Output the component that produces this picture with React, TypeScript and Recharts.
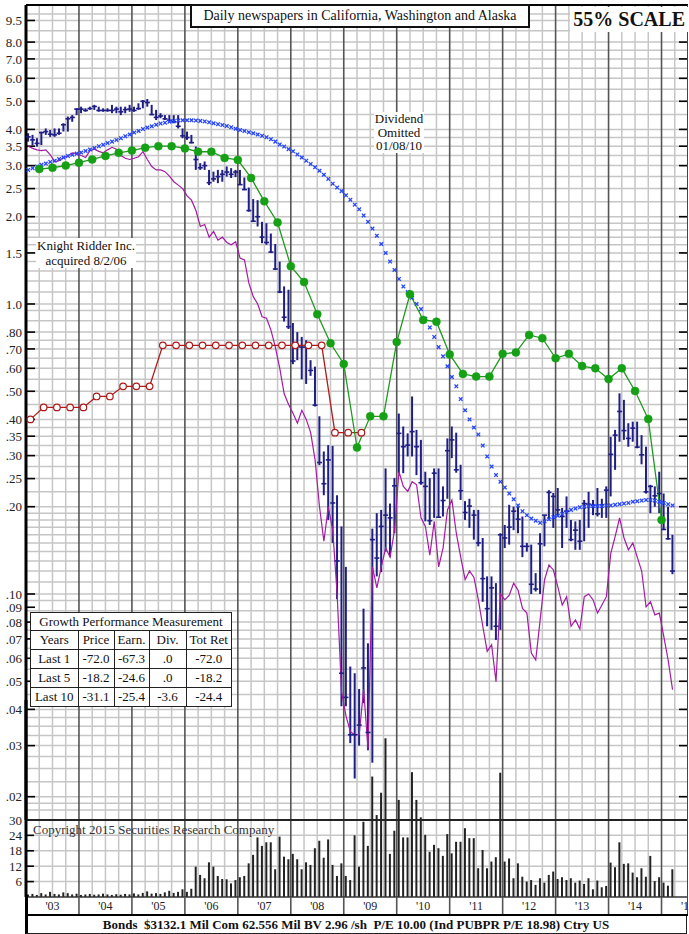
import React from 'react';
import { ComposedChart, Bar, Line, XAxis, YAxis, ReferenceLine } from 'recharts';

const SERIF = '"Liberation Serif", "Times New Roman", serif';

// monthly bars, Jan 2003 .. Mar 2015
const priceHigh = [
  3.88, 3.83, 3.73, 3.93, 4.03, 3.98, 4.03, 4.03, 4.20, 4.43, 4.48, 4.73,
  4.79, 4.73, 4.79, 4.86, 4.79, 4.73, 4.73, 4.86, 4.79, 4.79, 4.79, 4.86,
  4.79, 4.92, 5.05, 5.09, 4.86, 4.67, 4.55, 4.48, 4.48, 4.48, 4.48, 4.03,
  3.93, 3.83, 3.49, 3.06, 3.10, 2.90, 2.86, 2.90, 2.90, 2.98, 2.94, 2.90,
  2.90, 2.73, 2.52, 2.30, 2.28, 1.92, 1.90, 1.75, 1.61, 1.40, 1.15, 1.12,
  0.86, 0.80, 0.77, 0.75, 0.64, 0.608, 0.41, 0.31, 0.326, 0.324, 0.219, 0.171,
  0.124, 0.0562, 0.0533, 0.047, 0.089, 0.0676, 0.168, 0.190, 0.195, 0.271, 0.205, 0.251,
  0.419, 0.378, 0.358, 0.48, 0.368, 0.340, 0.264, 0.251, 0.271, 0.271, 0.235, 0.344,
  0.378, 0.36, 0.279, 0.209, 0.213, 0.195, 0.195, 0.156, 0.115, 0.115, 0.109, 0.162,
  0.173, 0.203, 0.200, 0.200, 0.185, 0.150, 0.148, 0.118, 0.162, 0.187, 0.228, 0.223,
  0.232, 0.198, 0.217, 0.180, 0.178, 0.180, 0.211, 0.225, 0.211, 0.232, 0.213, 0.235,
  0.348, 0.368, 0.492, 0.467, 0.388, 0.393, 0.393, 0.353, 0.322, 0.238, 0.235, 0.264,
  0.222, 0.200, 0.160,
];
const priceLow = [
  3.63, 3.53, 3.49, 3.53, 3.83, 3.77, 3.77, 3.83, 3.93, 3.93, 4.25, 4.48,
  4.55, 4.60, 4.67, 4.67, 4.60, 4.60, 4.60, 4.55, 4.55, 4.48, 4.55, 4.60,
  4.60, 4.67, 4.73, 4.79, 4.48, 4.31, 4.37, 4.31, 4.25, 4.20, 4.03, 3.73,
  3.68, 3.58, 2.90, 2.90, 2.90, 2.57, 2.64, 2.61, 2.64, 2.75, 2.72, 2.74,
  2.57, 2.47, 2.08, 1.92, 1.85, 1.62, 1.60, 1.50, 1.31, 1.09, 0.87, 0.82,
  0.62, 0.64, 0.55, 0.53, 0.565, 0.443, 0.278, 0.219, 0.18, 0.15, 0.096, 0.041,
  0.041, 0.0306, 0.0231, 0.030, 0.042, 0.0289, 0.0262, 0.115, 0.119, 0.140, 0.134, 0.162,
  0.261, 0.261, 0.298, 0.298, 0.257, 0.238, 0.178, 0.173, 0.183, 0.183, 0.185, 0.213,
  0.294, 0.262, 0.211, 0.180, 0.169, 0.154, 0.146, 0.094, 0.0774, 0.0752, 0.0694, 0.0752,
  0.144, 0.148, 0.166, 0.162, 0.134, 0.140, 0.100, 0.102, 0.100, 0.146, 0.180, 0.169,
  0.185, 0.144, 0.169, 0.152, 0.142, 0.142, 0.152, 0.169, 0.187, 0.185, 0.183, 0.183,
  0.217, 0.268, 0.335, 0.340, 0.322, 0.335, 0.318, 0.280, 0.222, 0.190, 0.200, 0.190,
  0.166, 0.154, 0.117,
];
const priceClose = [
  3.77, 3.68, 3.58, 3.90, 3.93, 3.85, 3.83, 3.88, 4.15, 4.35, 4.40, 4.70,
  4.70, 4.65, 4.72, 4.80, 4.65, 4.65, 4.65, 4.65, 4.70, 4.60, 4.68, 4.70,
  4.65, 4.72, 5.00, 4.95, 4.50, 4.40, 4.45, 4.35, 4.30, 4.25, 4.10, 3.80,
  3.75, 3.60, 3.15, 2.95, 3.00, 2.62, 2.70, 2.75, 2.80, 2.85, 2.80, 2.85,
  2.58, 2.48, 2.10, 1.93, 2.00, 1.70, 1.63, 1.51, 1.32, 1.10, 0.90, 0.835,
  0.636, 0.713, 0.71, 0.71, 0.59, 0.448, 0.284, 0.24, 0.29, 0.206, 0.13, 0.0533,
  0.044, 0.0327, 0.0327, 0.0353, 0.0556, 0.0333, 0.154, 0.133, 0.171, 0.187, 0.183, 0.236,
  0.358, 0.322, 0.326, 0.363, 0.322, 0.242, 0.235, 0.179, 0.261, 0.184, 0.21, 0.312,
  0.34, 0.268, 0.227, 0.191, 0.201, 0.187, 0.150, 0.113, 0.089, 0.105, 0.0774, 0.160,
  0.156, 0.170, 0.193, 0.181, 0.146, 0.146, 0.108, 0.104, 0.149, 0.187, 0.224, 0.217,
  0.195, 0.185, 0.193, 0.154, 0.166, 0.152, 0.205, 0.204, 0.202, 0.189, 0.203, 0.228,
  0.303, 0.353, 0.426, 0.366, 0.344, 0.373, 0.321, 0.302, 0.225, 0.235, 0.218, 0.222,
  0.167, 0.155, 0.120,
];
const movingAvg = [
  2.90, 2.94, 2.98, 3.02, 3.05, 3.09, 3.12, 3.16, 3.20, 3.24, 3.27, 3.30,
  3.33, 3.37, 3.41, 3.45, 3.50, 3.54, 3.59, 3.63, 3.68, 3.73, 3.79, 3.84,
  3.90, 3.95, 4.01, 4.06, 4.10, 4.15, 4.19, 4.22, 4.25, 4.27, 4.29, 4.30,
  4.30, 4.30, 4.29, 4.28, 4.26, 4.23, 4.20, 4.17, 4.14, 4.11, 4.07, 4.02,
  3.98, 3.95, 3.91, 3.88, 3.84, 3.80, 3.76, 3.70, 3.63, 3.55, 3.49, 3.42,
  3.36, 3.28, 3.20, 3.12, 3.04, 2.96, 2.88, 2.79, 2.70, 2.60, 2.52, 2.45,
  2.37, 2.29, 2.20, 2.12, 2.02, 1.92, 1.82, 1.72, 1.61, 1.50, 1.40, 1.31,
  1.22, 1.15, 1.10, 1.05, 1.00, 0.96, 0.89, 0.83, 0.77, 0.71, 0.66, 0.61,
  0.56, 0.52, 0.47, 0.43, 0.40, 0.375, 0.355, 0.325, 0.298, 0.275, 0.257, 0.244,
  0.233, 0.222, 0.212, 0.202, 0.193, 0.187, 0.182, 0.179, 0.176, 0.178, 0.181, 0.184,
  0.186, 0.189, 0.192, 0.195, 0.197, 0.199, 0.200, 0.201, 0.201, 0.201, 0.201, 0.202,
  0.202, 0.203, 0.204, 0.205, 0.206, 0.208, 0.209, 0.210, 0.211, 0.211, 0.210, 0.208,
  0.206, 0.204, 0.202,
];
const relStrength = [
  3.50, 3.44, 3.40, 3.38, 3.40, 3.27, 3.09, 3.12, 3.20, 3.24, 3.32, 3.30,
  3.25, 3.20, 3.38, 3.42, 3.36, 3.32, 3.40, 3.47, 3.42, 3.25, 3.18, 3.15,
  3.18, 3.22, 3.35, 3.15, 2.98, 2.90, 2.90, 2.86, 2.76, 2.64, 2.57, 2.50,
  2.36, 2.28, 2.10, 1.85, 1.88, 1.70, 1.78, 1.66, 1.70, 1.63, 1.60, 1.64,
  1.44, 1.42, 1.18, 1.06, 1.00, 0.904, 0.893, 0.813, 0.71, 0.60, 0.49, 0.45,
  0.42, 0.388, 0.43, 0.40, 0.36, 0.29, 0.20, 0.152, 0.20, 0.166, 0.10, 0.046,
  0.038, 0.0335, 0.0327, 0.0327, 0.047, 0.0291, 0.124, 0.105, 0.124, 0.144, 0.134, 0.166,
  0.264, 0.235, 0.226, 0.244, 0.238, 0.183, 0.171, 0.136, 0.178, 0.124, 0.144, 0.195,
  0.211, 0.162, 0.134, 0.112, 0.120, 0.114, 0.0954, 0.0774, 0.0634, 0.0668, 0.0498, 0.100,
  0.0954, 0.099, 0.109, 0.103, 0.0892, 0.0859, 0.0626, 0.0592, 0.0814, 0.112, 0.126, 0.121,
  0.106, 0.0916, 0.0979, 0.0774, 0.0814, 0.0757, 0.0979, 0.100, 0.0954, 0.0859, 0.0916, 0.0979,
  0.138, 0.158, 0.183, 0.156, 0.142, 0.150, 0.134, 0.120, 0.0903, 0.094, 0.0847, 0.0859,
  0.0715, 0.0592, 0.0468,
];
// volume, hundred thousands of shares
const volume = [
  1.0, 1.2, 0.8, 1.5, 1.0, 2.0, 1.2, 1.0, 1.8, 1.5, 1.0, 1.3,
  0.8, 1.0, 1.2, 0.9, 1.0, 1.3, 1.0, 0.8, 1.1, 0.9, 1.2, 1.0,
  1.4, 1.0, 1.6, 2.2, 1.3, 1.5, 1.2, 1.8, 2.4, 1.6, 2.0, 3.0,
  2.0, 3.2, 11.8, 8.6, 7.3, 13.5, 11.8, 8.2, 7.0, 6.9, 5.3, 6.6,
  7.7, 8.2, 13.1, 16.4, 23.2, 19.9, 21.3, 21.3, 10.8, 23.5, 15.7, 14.7,
  16.8, 14.7, 10.8, 13.5, 12.5, 19.0, 21.9, 15.3, 22.4, 12.5, 8.2, 13.1,
  8.2, 6.6, 24.0, 11.8, 29.3, 19.9, 46.9, 31.9, 40.6, 61.8, 16.8, 25.8,
  37.8, 23.2, 23.2, 48.6, 37.8, 31.0, 24.2, 17.6, 20.3, 19.0, 16.0, 24.5,
  17.0, 21.5, 21.5, 26.8, 22.9, 22.9, 11.2, 18.3, 11.2, 13.8, 15.5, 48.4,
  13.8, 15.0, 7.3, 13.1, 7.9, 6.0, 6.6, 4.7, 7.3, 5.6, 8.6, 9.9,
  7.0, 7.7, 6.6, 7.3, 5.6, 6.4, 5.1, 7.3, 3.0, 6.4, 3.8, 4.3,
  13.4, 11.6, 21.3, 12.9, 13.1, 9.5, 7.7, 11.2, 7.9, 16.0, 6.2, 7.7,
  5.6, 4.4, 10.8,
];
// quarterly earnings, Apr 2003 .. Jan 2015
const earnings = [
  2.92, 2.95, 3.00, 3.07, 3.15, 3.24, 3.32, 3.38, 3.46, 3.50, 3.50, 3.44,
  3.35, 3.35, 3.19, 3.14, 2.72, 2.26, 1.91, 1.35, 1.19, 0.922, 0.732, 0.621,
  0.320, 0.41, 0.41, 0.739, 1.08, 0.881, 0.869, 0.67, 0.574, 0.562, 0.562, 0.673,
  0.681, 0.782, 0.762, 0.650, 0.673, 0.611, 0.600, 0.551, 0.600, 0.501, 0.401, 0.180,
];
// quarterly dividends (annual rate), Feb 2003 .. May 2009
const dividends = [
  0.40, 0.44, 0.44, 0.44, 0.44, 0.48, 0.48, 0.52, 0.52, 0.52,
  0.72, 0.72, 0.72, 0.72, 0.72, 0.72, 0.72, 0.72, 0.72, 0.72, 0.72, 0.72, 0.72,
  0.36, 0.36, 0.36,
];

const priceTicks = [9.5, 8, 7, 6, 5, 4, 3.5, 3, 2.5, 2, 1.5, 1, 0.8, 0.7, 0.6, 0.5, 0.4, 0.35, 0.3, 0.25, 0.2, 0.1, 0.09, 0.08, 0.07, 0.06, 0.05, 0.04, 0.03, 0.02];
const volumeTicks = [30, 24, 18, 12, 6];
const gridSteps = [1, 1.1, 1.2, 1.3, 1.4, 1.5, 1.6, 1.7, 1.8, 1.9, 2, 2.25, 2.5, 2.75, 3, 3.25, 3.5, 3.75, 4, 4.5, 5, 5.5, 6, 6.5, 7, 7.5, 8, 8.75, 9.5];

const perfHeader = ['Years', 'Price', 'Earn.', 'Div.', 'Tot Ret'];
const perfRows = [
  ['Last 1', '-72.0', '-67.3', '.0', '-72.0'],
  ['Last 5', '-18.2', '-24.6', '.0', '-18.2'],
  ['Last 10', '-31.1', '-25.4', '-3.6', '-24.4'],
];

const X_DOMAIN: [number, number] = [2003, 2015.5];
const PRICE_DOMAIN: [number, number] = [0.01662, 10.74];
const VOL_MAX = 76.7;

const monthly = priceHigh.map((h, i) => ({
  t: 2003 + (i + 0.5) / 12,
  range: [priceLow[i], h],
  close: priceClose[i],
  ma: movingAvg[i],
  rs: relStrength[i],
  vol: volume[i],
}));
const earnData = earnings.map((v, i) => ({ t: 2003.25 + i * 0.25, v }));
const divData = dividends.map((v, i) => ({ t: 2003 + 1 / 12 + i * 0.25, v }));

const priceGrid = [0.01, 0.1, 1, 10]
  .flatMap((d) => gridSteps.map((s) => +(s * d).toPrecision(3)))
  .filter((v) => v > 0.017 && v < 10.7);
const yearLines = Array.from({ length: 12 }, (_, i) => 2004 + i);
const quarterLines = Array.from({ length: 49 }, (_, i) => 2003 + (i + 1) * 0.25).filter((t) => t % 1 !== 0);
const xTicks = Array.from({ length: 26 }, (_, i) => 2003 + i * 0.5);

const GRID = '#c6c6c6';
const YEAR = '#555';
const NAVY = '#1e1e86';

const fmtPrice = (v: number) => (v >= 1 ? v.toFixed(1) : '.' + String(Math.round(v * 100)).padStart(2, '0'));

const closeTick = (p: any) => (
  <line key={'c' + p.index} x1={p.cx - 2.5} x2={p.cx + 2.5} y1={p.cy} y2={p.cy} stroke={NAVY} strokeWidth={1.6} />
);

const maCross = (p: any) => (
  <g key={'m' + p.index} stroke="#2646ff" strokeWidth={1.3}>
    <line x1={p.cx - 1.8} x2={p.cx + 1.8} y1={p.cy - 1.8} y2={p.cy + 1.8} />
    <line x1={p.cx - 1.8} x2={p.cx + 1.8} y1={p.cy + 1.8} y2={p.cy - 1.8} />
  </g>
);

function YearTick(props: any) {
  const { x, y, payload } = props;
  const v = payload.value;
  if (Number.isInteger(v)) {
    return <line x1={x} x2={x} y1={y} y2={y + 18} stroke={YEAR} strokeWidth={1.6} />;
  }
  return (
    <text x={x} y={y + 13} textAnchor="middle" fontSize={12} fontFamily={SERIF} fill="#222">
      {"'" + String(Math.floor(v)).slice(2)}
    </text>
  );
}

const tickStyle = { fontSize: 13, fill: '#222', fontFamily: SERIF };

// grid only, drawn underneath the data layer
function PriceGrid() {
  return (
    <ComposedChart width={689} height={820} data={monthly} margin={{ top: 5, right: 1, bottom: 0, left: 26 }}>
      <XAxis dataKey="t" type="number" domain={X_DOMAIN} allowDataOverflow hide />
      <YAxis scale="log" domain={PRICE_DOMAIN} allowDataOverflow hide />
      {priceGrid.map((v) => (
        <ReferenceLine key={'h' + v} y={v} stroke={GRID} strokeWidth={1.5} ifOverflow="visible" />
      ))}
      {quarterLines.map((t) => (
        <ReferenceLine key={'q' + t} x={t} stroke={GRID} strokeWidth={1.5} ifOverflow="visible" />
      ))}
      {yearLines.map((t) => (
        <ReferenceLine key={'y' + t} x={t} stroke={YEAR} strokeWidth={1.6} ifOverflow="visible" />
      ))}
    </ComposedChart>
  );
}

function PriceChart() {
  return (
    <ComposedChart width={689} height={820} data={monthly} margin={{ top: 5, right: 1, bottom: 0, left: 0 }}>
      <XAxis dataKey="t" type="number" domain={X_DOMAIN} allowDataOverflow hide />
      <YAxis
        scale="log"
        domain={PRICE_DOMAIN}
        allowDataOverflow
        ticks={priceTicks}
        interval={0}
        width={26}
        tickLine={false}
        tickSize={4}
        tickMargin={0}
        axisLine={{ stroke: '#000', strokeWidth: 3 }}
        tick={tickStyle}
        tickFormatter={fmtPrice}
      />
      {priceTicks.map((v) => (
        <ReferenceLine key={'tl' + v} segment={[{ x: 2003, y: v }, { x: 2003.17, y: v }]} stroke="#000" strokeWidth={1.6} ifOverflow="visible" />
      ))}
      {priceTicks.map((v) => (
        <ReferenceLine key={'tr' + v} segment={[{ x: 2015.33, y: v }, { x: 2015.5, y: v }]} stroke="#000" strokeWidth={1.6} ifOverflow="visible" />
      ))}
      <Line dataKey="rs" stroke="#a31ca3" strokeWidth={1.2} dot={false} activeDot={false} isAnimationActive={false} />
      <Bar dataKey="range" barSize={2} fill={NAVY} isAnimationActive={false} />
      <Line dataKey="close" stroke="none" dot={closeTick} activeDot={false} isAnimationActive={false} />
      <Line dataKey="ma" stroke="none" dot={maCross} activeDot={false} isAnimationActive={false} />
      <Line
        data={divData}
        dataKey="v"
        stroke="#b01a1a"
        strokeWidth={1.3}
        dot={{ r: 3.3, fill: '#fff', stroke: '#b01a1a', strokeWidth: 1.2 }}
        activeDot={false}
        isAnimationActive={false}
      />
      <Line
        data={earnData}
        dataKey="v"
        stroke="#1f9a1f"
        strokeWidth={1.3}
        dot={{ r: 4, fill: '#15a015', stroke: '#15a015', strokeWidth: 0.5 }}
        activeDot={false}
        isAnimationActive={false}
      />
    </ComposedChart>
  );
}

function VolumeGrid() {
  return (
    <ComposedChart width={689} height={197} data={monthly} margin={{ top: 0, right: 1, bottom: 0, left: 26 }}>
      <XAxis dataKey="t" type="number" domain={X_DOMAIN} allowDataOverflow hide />
      <YAxis domain={[0, VOL_MAX]} allowDataOverflow hide />
      {[6, 12, 18, 24].map((v) => (
        <ReferenceLine key={'vh' + v} y={v} stroke={GRID} strokeWidth={1.5} ifOverflow="visible" />
      ))}
      {quarterLines.map((t) => (
        <ReferenceLine key={'vq' + t} segment={[{ x: t, y: 0 }, { x: t, y: 30 }]} stroke={GRID} strokeWidth={1.5} ifOverflow="visible" />
      ))}
      {yearLines.map((t) => (
        <ReferenceLine key={'vy' + t} segment={[{ x: t, y: 0 }, { x: t, y: 30 }]} stroke={YEAR} strokeWidth={1.6} ifOverflow="visible" />
      ))}
    </ComposedChart>
  );
}

function VolumeChart() {
  return (
    <ComposedChart width={689} height={216} data={monthly} margin={{ top: 0, right: 1, bottom: 0, left: 0 }}>
      <XAxis
        dataKey="t"
        type="number"
        domain={X_DOMAIN}
        allowDataOverflow
        ticks={xTicks}
        interval={0}
        height={19}
        tickLine={false}
        tickSize={0}
        tickMargin={0}
        tick={<YearTick />}
        axisLine={{ stroke: '#333', strokeWidth: 1.5 }}
      />
      <YAxis
        domain={[0, VOL_MAX]}
        allowDataOverflow
        ticks={volumeTicks}
        interval={0}
        width={26}
        tickLine={false}
        tickSize={4}
        tickMargin={0}
        axisLine={{ stroke: '#000', strokeWidth: 3 }}
        tick={tickStyle}
      />
      {[6, 12, 18, 24].map((v) => (
        <ReferenceLine key={'vt' + v} segment={[{ x: 2003, y: v }, { x: 2003.15, y: v }]} stroke="#000" strokeWidth={1.6} ifOverflow="visible" />
      ))}
      <ReferenceLine y={30} stroke="#222" strokeWidth={2} ifOverflow="visible" />
      <Bar dataKey="vol" barSize={2} fill="#222" isAnimationActive={false} />
    </ComposedChart>
  );
}

const abs = (s: React.CSSProperties): React.CSSProperties => ({ position: 'absolute', ...s });
const cell: React.CSSProperties = { border: '1px solid #222', padding: 0, textAlign: 'center', height: 18 };

export default function App() {
  return (
    <div style={abs({ left: 0, top: 0, width: 689, height: 934, background: '#fff', fontFamily: SERIF, color: '#111', overflow: 'hidden' })}>
      <div style={abs({ left: 0, top: 0 })}>
        <PriceGrid />
      </div>
      <div style={abs({ left: 0, top: 700 })}>
        <VolumeGrid />
      </div>
      <div style={abs({ left: 0, top: 0 })}>
        <PriceChart />
      </div>
      <div style={abs({ left: 0, top: 700 })}>
        <VolumeChart />
      </div>

      {/* frame */}
      <div style={abs({ left: 26, top: 4, width: 662, height: 2, background: '#000' })} />
      <div style={abs({ left: 687, top: 5, width: 1, height: 911, background: '#444' })} />
      <div style={abs({ left: 24.5, top: 895, width: 3, height: 39, background: '#000' })} />
      <div style={abs({ left: 26, top: 914, width: 662, height: 2, background: '#000' })} />
      <div
        style={abs({
          left: 26, top: 916, width: 660, height: 17, borderRight: '1px solid #222', borderBottom: '1px solid #222',
          textAlign: 'center', fontWeight: 'bold', fontSize: 13, lineHeight: '17px', whiteSpace: 'pre',
        })}
      >
        {'Bonds  $3132.1 Mil Com 62.556 Mil BV 2.96 /sh  P/E 10.00 (Ind PUBPR P/E 18.98) Ctry US'}
      </div>

      {/* title */}
      <div
        style={abs({
          left: 190, top: 4, width: 336, height: 20, border: '2px solid #111', background: '#fff',
          textAlign: 'center', fontSize: 14, lineHeight: '20px', whiteSpace: 'nowrap',
        })}
      >
        Daily newspapers in California, Washington and Alaska
      </div>
      <div
        style={abs({
          right: 1, top: 7, height: 25, paddingLeft: 3, paddingRight: 3, background: '#fff',
          fontWeight: 'bold', fontSize: 20, lineHeight: '25px', whiteSpace: 'nowrap',
        })}
      >
        55% SCALE
      </div>

      {/* notes */}
      <div style={abs({ left: 36, top: 238, width: 100, background: '#fff', fontSize: 13, lineHeight: '15px', textAlign: 'center', whiteSpace: 'nowrap' })}>
        Knight Ridder Inc.<br />acquired 8/2/06
      </div>
      <div style={abs({ left: 374, top: 112, width: 50, background: '#fff', fontSize: 13, lineHeight: '13.5px', textAlign: 'center' })}>
        Dividend<br />Omitted<br />01/08/10
      </div>

      {/* growth table */}
      <div style={abs({ left: 30, top: 612, width: 200, background: '#fff', border: '1px solid #222', fontSize: 13 })}>
        <div style={{ height: 17, lineHeight: '17px', textAlign: 'center', borderBottom: '1px solid #222' }}>
          Growth Performance Measurement
        </div>
        <table style={{ borderCollapse: 'collapse', width: '100%', fontSize: 13, fontFamily: SERIF, margin: 0, borderStyle: 'hidden' }}>
          <colgroup>
            <col style={{ width: 47 }} />
            <col style={{ width: 36 }} />
            <col style={{ width: 35 }} />
            <col style={{ width: 37 }} />
            <col style={{ width: 45 }} />
          </colgroup>
          <tbody>
            <tr>
              {perfHeader.map((h) => (
                <td key={h} style={cell}>{h}</td>
              ))}
            </tr>
            {perfRows.map((r) => (
              <tr key={r[0]}>
                {r.map((c, j) => (
                  <td key={j} style={cell}>{c}</td>
                ))}
              </tr>
            ))}
          </tbody>
        </table>
      </div>

      <div style={abs({ left: 33, top: 822, fontSize: 13, color: '#333', whiteSpace: 'nowrap' })}>
        Copyright 2015 Securities Research Company
      </div>
    </div>
  );
}
